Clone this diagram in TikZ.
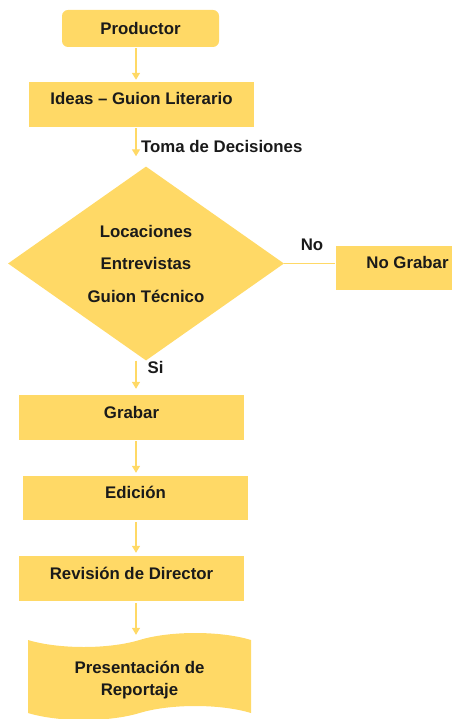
\documentclass[tikz,border=0pt]{standalone}
\usepackage{fontspec}
\setmainfont{Liberation Sans}
\usepackage{tikz}
\usetikzlibrary{shapes.geometric,shapes.symbols,arrows.meta}

\definecolor{yellowbox}{HTML}{FFD966}
\definecolor{textdark}{HTML}{1A1A1A}

\tikzset{
  txt/.style    = {font=\fontsize{16.8}{20}\selectfont\bfseries, text=textdark},
  box/.style    = {txt, fill=yellowbox, inner sep=0pt, minimum width=225pt,
                   minimum height=45pt, text height=12pt, text depth=11pt},
  flow/.style   = {draw=yellowbox, line width=1.3pt,
                   -{Triangle[width=8pt,length=7pt]}},
  lbl/.style    = {txt, inner sep=0pt}
}

\begin{document}
\begin{tikzpicture}[x=1pt, y=-1pt]

        \useasboundingbox (0,0) rectangle (451,719);

        %Column of the arrows
        \coordinate (col) at (136,0);

        %Top of the flow
        \node [txt, fill=yellowbox, rounded corners=6pt, minimum width=157pt,
               minimum height=37pt, inner sep=0pt, text height=12pt,
               text depth=0pt]                 (prod)   at (140.5,28.5)  {Productor};
        \node [box]                            (ideas)  at (141.5,104.5) {Ideas -- Guion Literario};

        %Decision
        \node [txt, diamond, fill=yellowbox, inner sep=0pt, minimum width=276pt,
               minimum height=190pt, align=center,
               font=\fontsize{16.8}{32.5}\selectfont\bfseries]
                                               (dec)    at (146,263.5)   {Locaciones\\Entrevistas\\Guion Técnico};
        \node [box, minimum width=144pt, minimum height=44pt]
                                               (nograb) at (407.5,268)   {No Grabar};

        %Lower boxes
        \node [box]                            (grabar) at (131.5,417.5) {Grabar};
        \node [box, minimum height=44pt]       (edic)   at (135.5,498)   {Edición};
        \node [box]                            (revis)  at (131.5,578.5) {Revisión de Director};
        \node [txt, tape, fill=yellowbox, inner sep=0pt, minimum width=223pt,
               minimum height=87pt, tape bend top=in and out,
               tape bend bottom=in and out, tape bend height=14pt, align=center,
               text height=42pt, text depth=3.5pt,
               font=\fontsize{16.8}{22}\selectfont\bfseries]
                                               (pres)   at (139.5,676.5) {Presentación de\\Reportaje};

        %Arrows
        \draw [flow, shorten <=1pt, shorten >=2pt]  (prod.south -| col)   -- (ideas.north -| col);
        \draw [flow, shorten <=1pt, shorten >=10pt] (ideas.south -| col)  -- (dec.north -| col);
        \draw [flow, shorten >=6pt]                 (dec.south -| col)    -- (grabar.north -| col);
        \draw [flow, shorten <=1pt, shorten >=3pt]  (grabar.south -| col) -- (edic.north -| col);
        \draw [flow, shorten <=2pt, shorten >=3pt]  (edic.south -| col)   -- (revis.north -| col);
        \draw [flow, shorten <=2pt, shorten >=5pt]  (revis.south -| col)  -- (pres.north -| col);
        \draw [draw=yellowbox, line width=1.3pt]    (dec.east)            -- (nograb.west |- dec.east);

        %Labels
        \node [lbl, right] (toma) at (141,146) {Toma de Decisiones};
        \node [lbl]        (no)   at (312,245) {No};
        \node [lbl]        (si)   at (155.5,367) {Si};

\end{tikzpicture}
\end{document}
